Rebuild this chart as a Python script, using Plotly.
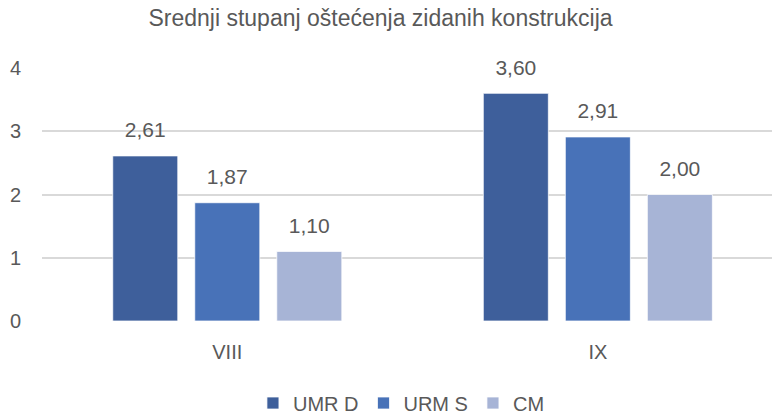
import plotly.graph_objects as go

categories = ["VIII", "IX"]
series_names = ["UMR D", "URM S", "CM"]
umr_d = [2.61, 3.60]
urm_s = [1.87, 2.91]
cm = [1.10, 2.00]
y_ticks = [0, 1, 2, 3, 4]

colors = ["#3E5F9B", "#4872B8", "#A7B4D6"]
values = [umr_d, urm_s, cm]
FONT = "Liberation Sans"
TXT = "#595959"

fig = go.Figure()
for name, vals, col in zip(series_names, values, colors):
    fig.add_trace(go.Bar(
        x=categories, y=vals, name=name,
        marker=dict(color=col, line=dict(color="white", width=0.75)),
        hoverinfo="skip",
    ))
for name, vals in zip(series_names, values):
    fig.add_trace(go.Scatter(
        x=categories, y=vals, mode="markers+text",
        text=[f"{v:.2f}".replace(".", ",") for v in vals],
        textposition="top center",
        textfont=dict(family=FONT, size=21, color=TXT),
        marker=dict(size=20, opacity=0),
        showlegend=False, hoverinfo="skip", cliponaxis=False,
    ))

fig.update_layout(
    width=772, height=417,
    margin=dict(l=42, r=0, t=68, b=96),
    paper_bgcolor="white", plot_bgcolor="white",
    barmode="group", bargap=0.336, bargroupgap=0.207,
    scattermode="group", scattergap=0.336,
    font=dict(family=FONT, size=20, color=TXT),
    title=dict(text="Srednji stupanj oštećenja zidanih konstrukcija",
               x=380.5 / 772, xref="container", xanchor="center",
               y=1 - 18 / 417, yref="container", yanchor="middle",
               font=dict(family=FONT, size=23, color=TXT)),
    legend=dict(orientation="h", x=0.52, xref="container", xanchor="center",
                y=1 - 403 / 417, yref="container", yanchor="middle",
                font=dict(family=FONT, size=20, color=TXT),
                traceorder="normal"),
    showlegend=True,
)
fig.update_xaxes(range=[-0.5, 1.47], showgrid=False, showline=False, zeroline=False,
                 automargin=False, ticks="", ticklabelstandoff=17,
                 tickfont=dict(size=20, color=TXT))
fig.update_yaxes(range=[0, 4], tickvals=y_ticks, showgrid=True, gridcolor="#D9D9D9", gridwidth=1.5,
                 zeroline=False, showline=False, automargin=False, ticks="", ticklabelstandoff=20,
                 tickfont=dict(size=20, color=TXT))

fig.write_html("out.html", config={"displayModeBar": False},
               post_script="document.body.style.margin='0';")
